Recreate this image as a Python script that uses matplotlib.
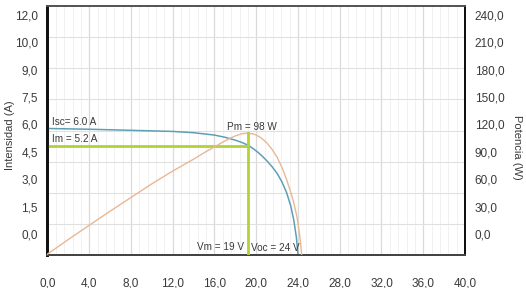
import matplotlib
matplotlib.use("Agg")
import matplotlib.pyplot as plt
from matplotlib.ticker import MultipleLocator

plt.rcParams['font.family'] = ['Liberation Sans', 'DejaVu Sans']

# curva I-V (tensión en V, intensidad en A)
v_iv = [0, 4, 8, 12, 14, 16, 17, 18, 18.6, 19.2, 19.7, 20.2, 20.6, 21.0,
        21.5, 22.0, 22.45, 22.9, 23.3, 23.6, 23.85, 24.0]
i_iv = [5.78, 5.74, 5.68, 5.62, 5.55, 5.42, 5.30, 5.14, 5.02, 4.87, 4.68,
        4.46, 4.25, 4.02, 3.70, 3.32, 2.87, 2.28, 1.55, 0.75, -0.2, -1.15]

# curva P-V (potencia en W)
v_pv = [0, 2, 4, 6, 8, 10, 12, 14, 15, 16, 17, 17.5, 18, 18.6, 19.1, 19.6,
        20.0, 20.5, 21.0, 21.5, 22.0, 22.5, 22.9, 23.3, 23.6, 23.9, 24.1,
        24.25, 24.35]
p_pv = [-22, -6, 9.6, 25, 40, 55, 69, 82, 89, 95.5, 102, 105, 107.5, 109.8,
        110.5, 110, 108.5, 105, 100, 93, 84, 72, 60, 46, 34, 19, 4, -10, -23]

# punto de máxima potencia
vm = 19.2
im = 4.84
pm = 110.3

x_ticks = [0, 4, 8, 12, 16, 20, 24, 28, 32, 36, 40]
y_left_ticks = [0, 1.5, 3, 4.5, 6, 7.5, 9, 10.5, 12]
y_left_labels = ['0,0', '1,5', '3,0', '4,5', '6,0', '7,5', '9,0', '10,0', '12,0']
y_right_ticks = [0, 30, 60, 90, 120, 150, 180, 210, 240]

ylim_a = (-1.151, 12.49)
ylim_w = (ylim_a[0] * 20, ylim_a[1] * 20)

fig = plt.figure(figsize=(5.26, 2.88), dpi=100)
ax = fig.add_axes([0.0903, 0.1146, 0.7937, 0.8644])
ax2 = ax.twinx()

ax.set_xlim(0, 40)
ax.set_ylim(*ylim_a)
ax2.set_ylim(*ylim_w)

txt = '#3a3a3a'

# rejilla
ax.set_xticks(x_ticks)
ax.set_xticklabels([f'{v:.1f}'.replace('.', ',') for v in x_ticks])
ax.xaxis.set_minor_locator(MultipleLocator(0.8))
ax.grid(which='major', axis='x', color='#dadada', lw=0.9)
ax.grid(which='minor', axis='x', color='#efefef', lw=0.6)
grid_y = [ylim_a[0] + k * (ylim_a[1] - ylim_a[0]) / 8 for k in range(1, 8)]
ax.set_yticks(grid_y, minor=True)
ax.grid(which='minor', axis='y', color='#e0e0e0', lw=0.8)
ax.set_axisbelow(True)

ax.set_yticks(y_left_ticks)
ax.set_yticklabels(y_left_labels)
ax2.set_yticks(y_right_ticks)
ax2.set_yticklabels([f'{v:.1f}'.replace('.', ',') for v in y_right_ticks])

ax.tick_params(axis='both', which='both', length=0, labelsize=8.5, labelcolor=txt)
ax.tick_params(axis='x', pad=16)
ax.tick_params(axis='y', pad=7)
ax2.tick_params(axis='y', length=0, labelsize=8.5, labelcolor=txt, pad=7)

for a in (ax, ax2):
    a.spines['left'].set_linewidth(2.0)
    a.spines['left'].set_color('#111111')
    a.spines['right'].set_linewidth(1.4)
    a.spines['right'].set_color('#111111')
    a.spines['top'].set_linewidth(1.3)
    a.spines['top'].set_color('#555555')
    a.spines['bottom'].set_linewidth(1.4)
    a.spines['bottom'].set_color('#444444')

# curvas
ax.plot(v_iv, i_iv, color='#5e9fb4', lw=1.1, zorder=3)
ax2.plot(v_pv, p_pv, color='#e8b894', lw=1.0, zorder=3)

# líneas de máxima potencia
green = '#b2d235'
ax.plot([0, vm], [im, im], color=green, lw=2.0, zorder=4)
ax2.plot([vm, vm], [ylim_w[0], pm], color=green, lw=2.0, zorder=4)

# textos
fs = 7.2
ax.text(0.43, 6.14, 'Isc= 6.0 A', fontsize=fs, color=txt, va='center', ha='left')
ax.text(0.43, 5.2, 'Im = 5.2 A', fontsize=fs, color=txt, va='center', ha='left')
ax.text(17.2, 5.88, 'Pm = 98 W', fontsize=fs, color=txt, va='center', ha='left')
ax.text(14.3, -0.7, 'Vm = 19 V', fontsize=fs, color=txt, va='center', ha='left')
ax.text(19.5, -0.77, 'Voc = 24 V', fontsize=fs, color=txt, va='center', ha='left')

fig.text(10 / 526, 1 - 135 / 288, 'Intensidad (A)', rotation=90, fontsize=8,
         color=txt, ha='center', va='center')
fig.text(517 / 526, 1 - 147 / 288, 'Potencia (W)', rotation=270, fontsize=8,
         color=txt, ha='center', va='center')

fig.savefig('out.png', dpi=100)
